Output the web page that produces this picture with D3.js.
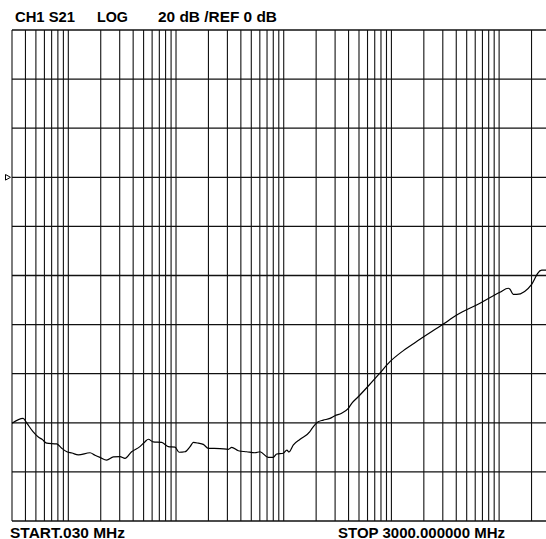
<!DOCTYPE html>
<html>
<head>
<meta charset="utf-8">
<script src="https://cdn.jsdelivr.net/npm/d3@7"></script>
<style>
  body { margin: 0; background: #fff; }
  svg { display: block; }
  text { font-family: "Liberation Sans", Arial, sans-serif; font-weight: bold; fill: #000; }
</style>
</head>
<body>
<div id="chart"></div>
<script>
// trace: frequency (MHz) and S21 (dB)
const freq = [0.030, 0.038, 0.041, 0.047, 0.053, 0.057, 0.063, 0.078, 0.087, 0.097,
  0.108, 0.124, 0.159, 0.177, 0.197, 0.227, 0.262, 0.302, 0.336, 0.387,
  0.462, 0.516, 0.553, 0.615, 0.736, 0.848, 0.978, 1.07, 1.21, 1.35,
  1.45, 1.61, 1.79, 2.0, 2.56, 3.06, 3.29, 3.79, 4.53, 5.41,
  6.02, 7.2, 8.0, 8.6, 9.9, 10.7, 11.2, 12.3, 14.2, 17.5,
  18.2, 20.9, 23.3, 26.9, 29.9, 34.5, 39.8, 42.8, 49.2, 61,
  75.5, 97, 129, 184, 303, 404, 664, 1018, 1217, 1262,
  1355, 1456, 2005, 2153, 2281, 2484, 3000]
const s21 = [-100.2, -98.2, -100.0, -103.6, -105.9, -106.7, -108.3, -108.6, -110.4, -111.8,
  -112.3, -113.1, -112.2, -113.2, -114.1, -115.2, -113.9, -113.8, -114.5, -111.8,
  -109.7, -107.7, -106.7, -107.8, -108.0, -109.7, -109.9, -112.0, -111.8, -109.7,
  -108.0, -108.3, -108.8, -110.4, -110.5, -110.8, -110.0, -111.4, -111.8, -112.2,
  -111.8, -114.1, -114.1, -112.7, -112.4, -111.1, -111.9, -109.0, -106.7, -103.6,
  -102.5, -99.6, -98.9, -98.2, -97.1, -96.1, -94.1, -92.1, -89.4, -85.0,
  -80.5, -75.1, -70.6, -66.0, -59.8, -56.1, -51.3, -46.8, -45.2, -45.6,
  -47.7, -47.7, -43.6, -41.1, -39.1, -37.8, -37.8]

const START = 0.03, STOP = 3000
const DB_TOP = 60, DB_BOTTOM = -140, DB_DIV = 20
const REF = 0

const width = 546, height = 539
const plot = { left: 12, right: 550.5, top: 30, bottom: 521 }

const svg = d3.select('#chart').append('svg')
  .attr('width', width)
  .attr('height', height)

const x = d3.scaleLog()
  .domain([START, STOP])
  .range([plot.left, plot.right])

const y = d3.scaleLinear()
  .domain([DB_TOP, DB_BOTTOM])
  .range([plot.top, plot.bottom])

// grid
let grid = svg.append('g').attr('class', 'grid')

grid.selectAll('.v')
  .data(x.ticks())
  .enter().append('line')
    .attr('class', 'v')
    .attr('x1', (d) => x(d))
    .attr('x2', (d) => x(d))
    .attr('y1', plot.top)
    .attr('y2', plot.bottom)
    .attr('stroke', '#111')
    .attr('stroke-width', 1.1)

grid.selectAll('.h')
  .data(d3.range(DB_TOP, DB_BOTTOM - 1, -DB_DIV))
  .enter().append('line')
    .attr('class', 'h')
    .attr('x1', plot.left)
    .attr('x2', plot.right)
    .attr('y1', (d) => y(d))
    .attr('y2', (d) => y(d))
    .attr('stroke', '#111')
    .attr('stroke-width', 1.3)

// reference marker
let ry = y(REF)
svg.append('path')
  .attr('d', 'M5.5,' + (ry - 2.8) + 'L10.5,' + ry + 'L5.5,' + (ry + 2.8) + 'Z')
  .attr('fill', 'none')
  .attr('stroke', '#000')
  .attr('stroke-width', 1)

// trace
let line = d3.line()
  .x((d, i) => x(freq[i]))
  .y((d) => y(d))
  .curve(d3.curveMonotoneX)

svg.append('path')
  .datum(s21)
  .attr('d', line)
  .attr('fill', 'none')
  .attr('stroke', '#000')
  .attr('stroke-width', 1.2)

// annotations
let labels = [
  { t: 'CH1 S21', x: 15, y: 21.5, w: 60 },
  { t: 'LOG', x: 97, y: 21.5, w: 31 },
  { t: '20 dB /REF 0 dB', x: 158, y: 21.5, w: 119 },
  { t: 'START.030 MHz', x: 10, y: 537.5, w: 115 },
  { t: 'STOP 3000.000000 MHz', x: 338, y: 537.5, w: 167 }
]

svg.selectAll('.label')
  .data(labels)
  .enter().append('text')
    .attr('class', 'label')
    .attr('x', (d) => d.x)
    .attr('y', (d) => d.y)
    .attr('font-size', 14.5)
    .attr('textLength', (d) => d.w)
    .attr('lengthAdjust', 'spacingAndGlyphs')
    .text((d) => d.t)
</script>
</body>
</html>
